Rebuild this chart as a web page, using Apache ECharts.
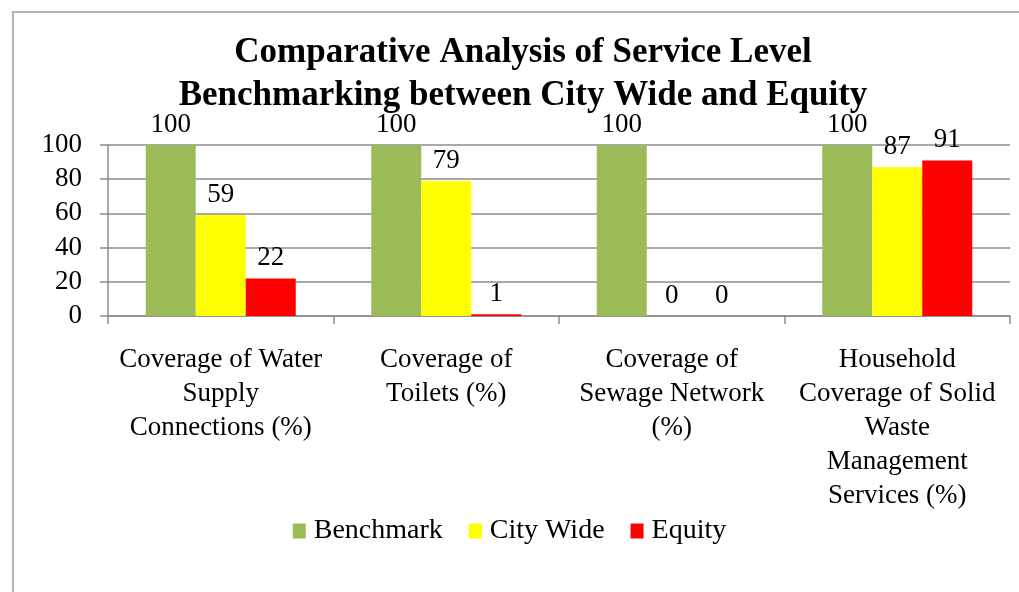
<!DOCTYPE html>
<html><head><meta charset="utf-8">
<script src="https://cdn.jsdelivr.net/npm/echarts@6/dist/echarts.min.js"></script>
<style>html,body{margin:0;padding:0;background:#fff}#c{width:1019px;height:592px}</style>
</head><body><div id="c"></div>
<script>
const titleLines = ["Comparative Analysis of Service Level", "Benchmarking between City Wide and Equity"];
const categories = [
  "Coverage of Water\nSupply\nConnections (%)",
  "Coverage of\nToilets (%)",
  "Coverage of\nSewage Network\n(%)",
  "Household\nCoverage of Solid\nWaste\nManagement\nServices (%)"
];
const seriesNames = ["Benchmark", "City Wide", "Equity"];
const benchmark = [100, 100, 100, 100];
const cityWide = [59, 79, 0, 87];
const equity = [22, 1, 0, 91];
const colors = ["#9bbb59", "#ffff00", "#ff0000"];
const yTicks = [0, 20, 40, 60, 80, 100];

const serif = "'Liberation Serif', 'DejaVu Serif', serif";
const chart = echarts.init(document.getElementById('c'));
const lbl = {show: true, position: 'top', distance: 7, color: '#000', fontSize: 27, fontFamily: serif};
const vals = [benchmark, cityWide, equity];
chart.setOption({
  animation: false,
  graphic: [
    {type: 'rect', shape: {x: 13, y: 12, width: 1030, height: 620}, style: {fill: 'none', stroke: '#b4b4b4', lineWidth: 2}},
    {type: 'text', x: 523, y: 31, style: {text: titleLines.join('\n'), textAlign: 'center', fill: '#000', font: "bold 35px " + serif, lineHeight: 43}}
  ],
  legend: {
    data: seriesNames, top: 512, left: 'center', itemWidth: 13, itemHeight: 15, itemGap: 26,
    icon: 'rect', textStyle: {fontSize: 28, fontFamily: serif, color: '#000', padding: [0, 0, 0, 3]}
  },
  grid: {left: 108, right: 9, top: 145, bottom: 276},
  xAxis: {
    type: 'category', data: categories,
    axisLine: {lineStyle: {color: '#8c8c8c', width: 1.5}},
    axisTick: {show: true, length: 8, lineStyle: {color: '#8c8c8c', width: 1.5}},
    axisLabel: {color: '#000', fontSize: 27, fontFamily: serif, lineHeight: 34, margin: 27, interval: 0, align: 'center'}
  },
  yAxis: {
    type: 'value', min: 0, max: 100, interval: 20,
    axisLine: {show: true, lineStyle: {color: '#8c8c8c', width: 1.5}},
    axisTick: {show: true, length: 8, lineStyle: {color: '#8c8c8c', width: 1.5}},
    splitLine: {lineStyle: {color: '#8c8c8c', width: 1.5}},
    axisLabel: {color: '#000', fontSize: 27, fontFamily: serif, margin: 26,
      formatter: v => yTicks.includes(v) ? String(v) : ''}
  },
  series: seriesNames.map((n, i) => ({
    name: n, type: 'bar', data: vals[i], barWidth: 50, barGap: '0%',
    itemStyle: {color: colors[i]}, label: lbl
  }))
});
</script></body></html>
